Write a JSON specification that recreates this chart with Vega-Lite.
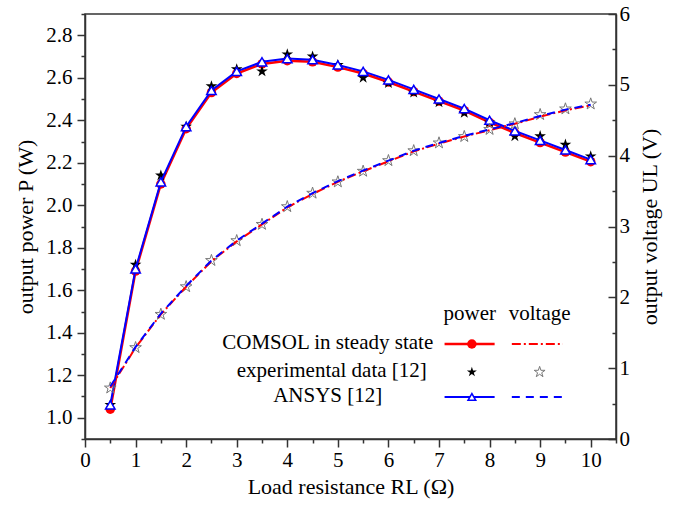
{
  "$schema": "https://vega.github.io/schema/vega-lite/v6.json",
  "width": 531,
  "height": 425,
  "padding": {"left": 14, "top": 3, "right": 5, "bottom": 5},
  "config": {
    "font": "Liberation Serif, Times New Roman, serif",
    "text": {"font": "Liberation Serif, Times New Roman, serif"},
    "view": {"stroke": "#333", "strokeWidth": 1.5},
    "axis": {"grid": false, "labelFont": "Liberation Serif, Times New Roman, serif", "titleFont": "Liberation Serif, Times New Roman, serif", "labelFontSize": 21, "titleFontSize": 22, "titleFontWeight": "normal", "labelColor": "black", "titleColor": "black", "domainColor": "#333", "domainWidth": 1.5, "tickColor": "#333", "tickWidth": 1.5, "labelFlush": false}
  },
  "data": {
    "values": [
      {"R": 0.5, "P_comsol": 1.04, "P_exp": 1.06, "P_ansys": 1.06, "U_comsol": 0.72, "U_exp": 0.72, "U_ansys": 0.74},
      {"R": 1.0, "P_comsol": 1.69, "P_exp": 1.72, "P_ansys": 1.70, "U_comsol": 1.29, "U_exp": 1.29, "U_ansys": 1.30},
      {"R": 1.5, "P_comsol": 2.10, "P_exp": 2.14, "P_ansys": 2.11, "U_comsol": 1.76, "U_exp": 1.76, "U_ansys": 1.77},
      {"R": 2.0, "P_comsol": 2.36, "P_exp": 2.37, "P_ansys": 2.37, "U_comsol": 2.15, "U_exp": 2.15, "U_ansys": 2.16},
      {"R": 2.5, "P_comsol": 2.53, "P_exp": 2.56, "P_ansys": 2.54, "U_comsol": 2.51, "U_exp": 2.52, "U_ansys": 2.52},
      {"R": 3.0, "P_comsol": 2.62, "P_exp": 2.64, "P_ansys": 2.63, "U_comsol": 2.79, "U_exp": 2.80, "U_ansys": 2.80},
      {"R": 3.5, "P_comsol": 2.665, "P_exp": 2.63, "P_ansys": 2.675, "U_comsol": 3.03, "U_exp": 3.03, "U_ansys": 3.04},
      {"R": 4.0, "P_comsol": 2.68, "P_exp": 2.71, "P_ansys": 2.69, "U_comsol": 3.27, "U_exp": 3.28, "U_ansys": 3.28},
      {"R": 4.5, "P_comsol": 2.675, "P_exp": 2.70, "P_ansys": 2.685, "U_comsol": 3.46, "U_exp": 3.47, "U_ansys": 3.47},
      {"R": 5.0, "P_comsol": 2.65, "P_exp": 2.66, "P_ansys": 2.66, "U_comsol": 3.63, "U_exp": 3.63, "U_ansys": 3.64},
      {"R": 5.5, "P_comsol": 2.62, "P_exp": 2.60, "P_ansys": 2.63, "U_comsol": 3.78, "U_exp": 3.78, "U_ansys": 3.79},
      {"R": 6.0, "P_comsol": 2.58, "P_exp": 2.575, "P_ansys": 2.59, "U_comsol": 3.92, "U_exp": 3.93, "U_ansys": 3.93},
      {"R": 6.5, "P_comsol": 2.535, "P_exp": 2.53, "P_ansys": 2.545, "U_comsol": 4.06, "U_exp": 4.07, "U_ansys": 4.07},
      {"R": 7.0, "P_comsol": 2.49, "P_exp": 2.485, "P_ansys": 2.50, "U_comsol": 4.17, "U_exp": 4.18, "U_ansys": 4.18},
      {"R": 7.5, "P_comsol": 2.445, "P_exp": 2.435, "P_ansys": 2.455, "U_comsol": 4.27, "U_exp": 4.27, "U_ansys": 4.28},
      {"R": 8.0, "P_comsol": 2.39, "P_exp": 2.39, "P_ansys": 2.40, "U_comsol": 4.36, "U_exp": 4.37, "U_ansys": 4.37},
      {"R": 8.5, "P_comsol": 2.34, "P_exp": 2.325, "P_ansys": 2.35, "U_comsol": 4.45, "U_exp": 4.45, "U_ansys": 4.46},
      {"R": 9.0, "P_comsol": 2.295, "P_exp": 2.325, "P_ansys": 2.305, "U_comsol": 4.55, "U_exp": 4.58, "U_ansys": 4.56},
      {"R": 9.5, "P_comsol": 2.25, "P_exp": 2.285, "P_ansys": 2.26, "U_comsol": 4.64, "U_exp": 4.66, "U_ansys": 4.65},
      {"R": 10.0, "P_comsol": 2.205, "P_exp": 2.23, "P_ansys": 2.215, "U_comsol": 4.71, "U_exp": 4.73, "U_ansys": 4.72}
    ]
  },
  "encoding": {
    "x": {
      "field": "R", "type": "quantitative",
      "scale": {"domain": [0, 10.5], "nice": false, "zero": false},
      "title": "Load resistance RL (Ω)",
      "axis": {
        "values": [0, 0.5, 1, 1.5, 2, 2.5, 3, 3.5, 4, 4.5, 5, 5.5, 6, 6.5, 7, 7.5, 8, 8.5, 9, 9.5, 10, 10.5],
        "format": ".0f",
        "labelExpr": "datum.value % 1 == 0 ? datum.label : ''",
        "tickSize": 8,
        "tickDash": {"condition": {"test": "datum.value % 1 == 0", "value": [8, 0]}, "value": [4, 20]},
        "labelPadding": 2,
        "titlePadding": 6
      }
    }
  },
  "layer": [
    {
      "mark": {"type": "line", "color": "#ff0000", "strokeWidth": 2.5},
      "encoding": {
        "y": {
          "field": "P_comsol", "type": "quantitative",
          "scale": {"domain": [0.9, 2.9], "nice": false, "zero": false},
          "title": "output power P (W)",
          "axis": {
            "values": [0.9, 1.0, 1.1, 1.2, 1.3, 1.4, 1.5, 1.6, 1.7, 1.8, 1.9, 2.0, 2.1, 2.2, 2.3, 2.4, 2.5, 2.6, 2.7, 2.8, 2.9],
            "format": ".1f",
            "labelExpr": "round(datum.value * 10) % 2 == 0 ? datum.label : ''",
            "tickSize": 8,
            "tickDash": {"condition": {"test": "round(datum.value * 10) % 2 == 0", "value": [8, 0]}, "value": [4, 20]},
            "labelPadding": 5,
            "titlePadding": 8
          }
        }
      }
    },
    {
      "mark": {"type": "point", "shape": "circle", "filled": true, "color": "#ff0000", "size": 90, "opacity": 1},
      "encoding": {"y": {"field": "P_comsol", "type": "quantitative", "scale": {"domain": [0.9, 2.9], "nice": false, "zero": false}, "axis": null}}
    },
    {
      "mark": {"type": "point", "shape": "M0,-1L0.2245,-0.309L0.9511,-0.309L0.3633,0.118L0.5878,0.809L0,0.382L-0.5878,0.809L-0.3633,0.118L-0.9511,-0.309L-0.2245,-0.309Z", "filled": true, "color": "black", "size": 150, "opacity": 1},
      "encoding": {"y": {"field": "P_exp", "type": "quantitative", "scale": {"domain": [0.9, 2.9], "nice": false, "zero": false}, "axis": null}}
    },
    {
      "mark": {"type": "line", "color": "#0000ff", "strokeWidth": 2},
      "encoding": {"y": {"field": "P_ansys", "type": "quantitative", "scale": {"domain": [0.9, 2.9], "nice": false, "zero": false}, "axis": null}}
    },
    {
      "mark": {"type": "point", "shape": "triangle-up", "filled": true, "fill": "white", "stroke": "#0000ff", "strokeWidth": 1.5, "size": 90, "opacity": 1},
      "encoding": {"y": {"field": "P_ansys", "type": "quantitative", "scale": {"domain": [0.9, 2.9], "nice": false, "zero": false}, "axis": null}}
    },
    {
      "mark": {"type": "point", "shape": "M0,-1L0.2245,-0.309L0.9511,-0.309L0.3633,0.118L0.5878,0.809L0,0.382L-0.5878,0.809L-0.3633,0.118L-0.9511,-0.309L-0.2245,-0.309Z", "filled": false, "color": "#777777", "strokeWidth": 1, "size": 150, "opacity": 1},
      "encoding": {
        "y": {
          "field": "U_exp", "type": "quantitative",
          "scale": {"domain": [0, 6], "nice": false, "zero": false},
          "title": "output voltage UL (V)",
          "axis": {
            "orient": "right",
            "titleAngle": 270,
            "titleBaseline": "top",
            "values": [0, 0.5, 1, 1.5, 2, 2.5, 3, 3.5, 4, 4.5, 5, 5.5, 6],
            "format": ".0f",
            "labelExpr": "datum.value % 1 == 0 ? datum.label : ''",
            "tickSize": -8,
            "tickDash": {"condition": {"test": "datum.value % 1 == 0", "value": [8, 0]}, "value": [4, 20]},
            "labelPadding": 11,
            "titlePadding": 10
          }
        }
      }
    },
    {
      "mark": {"type": "line", "color": "#ff0000", "strokeWidth": 2, "strokeDash": [9, 3, 2, 3]},
      "encoding": {"y": {"field": "U_comsol", "type": "quantitative", "scale": {"domain": [0, 6], "nice": false, "zero": false}, "axis": null}}
    },
    {
      "mark": {"type": "line", "color": "#0000ff", "strokeWidth": 2, "strokeDash": [8, 6]},
      "encoding": {"y": {"field": "U_ansys", "type": "quantitative", "scale": {"domain": [0, 6], "nice": false, "zero": false}, "axis": null}}
    },
    {
      "transform": [{"filter": "datum.R == 10"}],
      "mark": {"type": "text", "text": "power", "fontSize": 21, "font": "Liberation Serif, Times New Roman, serif", "align": "center", "baseline": "middle", "color": "black"},
      "encoding": {"x": {"datum": 7.61}, "y": {"datum": 1.49, "scale": {"domain": [0.9, 2.9], "nice": false, "zero": false}, "axis": null}}
    },
    {
      "transform": [{"filter": "datum.R == 10"}],
      "mark": {"type": "text", "text": "voltage", "fontSize": 21, "font": "Liberation Serif, Times New Roman, serif", "align": "center", "baseline": "middle", "color": "black"},
      "encoding": {"x": {"datum": 8.99}, "y": {"datum": 1.49, "scale": {"domain": [0.9, 2.9], "nice": false, "zero": false}, "axis": null}}
    },
    {
      "transform": [{"filter": "datum.R == 10"}],
      "mark": {"type": "text", "text": "COMSOL in steady state", "fontSize": 21, "font": "Liberation Serif, Times New Roman, serif", "align": "center", "baseline": "middle", "color": "black"},
      "encoding": {"x": {"datum": 4.8}, "y": {"datum": 1.352, "scale": {"domain": [0.9, 2.9], "nice": false, "zero": false}, "axis": null}}
    },
    {
      "transform": [{"filter": "datum.R == 10"}],
      "mark": {"type": "text", "text": "experimental data [12]", "fontSize": 21, "font": "Liberation Serif, Times New Roman, serif", "align": "center", "baseline": "middle", "color": "black"},
      "encoding": {"x": {"datum": 4.88}, "y": {"datum": 1.22, "scale": {"domain": [0.9, 2.9], "nice": false, "zero": false}, "axis": null}}
    },
    {
      "transform": [{"filter": "datum.R == 10"}],
      "mark": {"type": "text", "text": "ANSYS [12]", "fontSize": 21, "font": "Liberation Serif, Times New Roman, serif", "align": "center", "baseline": "middle", "color": "black"},
      "encoding": {"x": {"datum": 4.8}, "y": {"datum": 1.103, "scale": {"domain": [0.9, 2.9], "nice": false, "zero": false}, "axis": null}}
    },
    {
      "transform": [{"filter": "datum.R == 10"}],
      "mark": {"type": "rule", "color": "#ff0000", "strokeWidth": 2.5},
      "encoding": {"x": {"datum": 7.11}, "x2": {"datum": 8.1}, "y": {"datum": 1.347, "scale": {"domain": [0.9, 2.9], "nice": false, "zero": false}, "axis": null}}
    },
    {
      "transform": [{"filter": "datum.R == 10"}],
      "mark": {"type": "point", "shape": "circle", "filled": true, "color": "#ff0000", "size": 90, "opacity": 1},
      "encoding": {"x": {"datum": 7.65}, "y": {"datum": 1.347, "scale": {"domain": [0.9, 2.9], "nice": false, "zero": false}, "axis": null}}
    },
    {
      "transform": [{"filter": "datum.R == 10"}],
      "mark": {"type": "rule", "color": "#ff0000", "strokeWidth": 2, "strokeDash": [9, 3, 2, 3]},
      "encoding": {"x": {"datum": 8.44}, "x2": {"datum": 9.45}, "y": {"datum": 1.347, "scale": {"domain": [0.9, 2.9], "nice": false, "zero": false}, "axis": null}}
    },
    {
      "transform": [{"filter": "datum.R == 10"}],
      "mark": {"type": "point", "shape": "M0,-1L0.2245,-0.309L0.9511,-0.309L0.3633,0.118L0.5878,0.809L0,0.382L-0.5878,0.809L-0.3633,0.118L-0.9511,-0.309L-0.2245,-0.309Z", "filled": true, "color": "black", "size": 110, "opacity": 1},
      "encoding": {"x": {"datum": 7.65}, "y": {"datum": 1.215, "scale": {"domain": [0.9, 2.9], "nice": false, "zero": false}, "axis": null}}
    },
    {
      "transform": [{"filter": "datum.R == 10"}],
      "mark": {"type": "point", "shape": "M0,-1L0.2245,-0.309L0.9511,-0.309L0.3633,0.118L0.5878,0.809L0,0.382L-0.5878,0.809L-0.3633,0.118L-0.9511,-0.309L-0.2245,-0.309Z", "filled": false, "color": "#777777", "strokeWidth": 1, "size": 130, "opacity": 1},
      "encoding": {"x": {"datum": 8.99}, "y": {"datum": 1.215, "scale": {"domain": [0.9, 2.9], "nice": false, "zero": false}, "axis": null}}
    },
    {
      "transform": [{"filter": "datum.R == 10"}],
      "mark": {"type": "rule", "color": "#0000ff", "strokeWidth": 2},
      "encoding": {"x": {"datum": 7.11}, "x2": {"datum": 8.1}, "y": {"datum": 1.098, "scale": {"domain": [0.9, 2.9], "nice": false, "zero": false}, "axis": null}}
    },
    {
      "transform": [{"filter": "datum.R == 10"}],
      "mark": {"type": "point", "shape": "triangle-up", "filled": true, "fill": "white", "stroke": "#0000ff", "strokeWidth": 1.5, "size": 60, "opacity": 1},
      "encoding": {"x": {"datum": 7.65}, "y": {"datum": 1.098, "scale": {"domain": [0.9, 2.9], "nice": false, "zero": false}, "axis": null}}
    },
    {
      "transform": [{"filter": "datum.R == 10"}],
      "mark": {"type": "rule", "color": "#0000ff", "strokeWidth": 2, "strokeDash": [8, 6]},
      "encoding": {"x": {"datum": 8.44}, "x2": {"datum": 9.45}, "y": {"datum": 1.098, "scale": {"domain": [0.9, 2.9], "nice": false, "zero": false}, "axis": null}}
    }
  ],
  "resolve": {"scale": {"y": "independent"}}
}
